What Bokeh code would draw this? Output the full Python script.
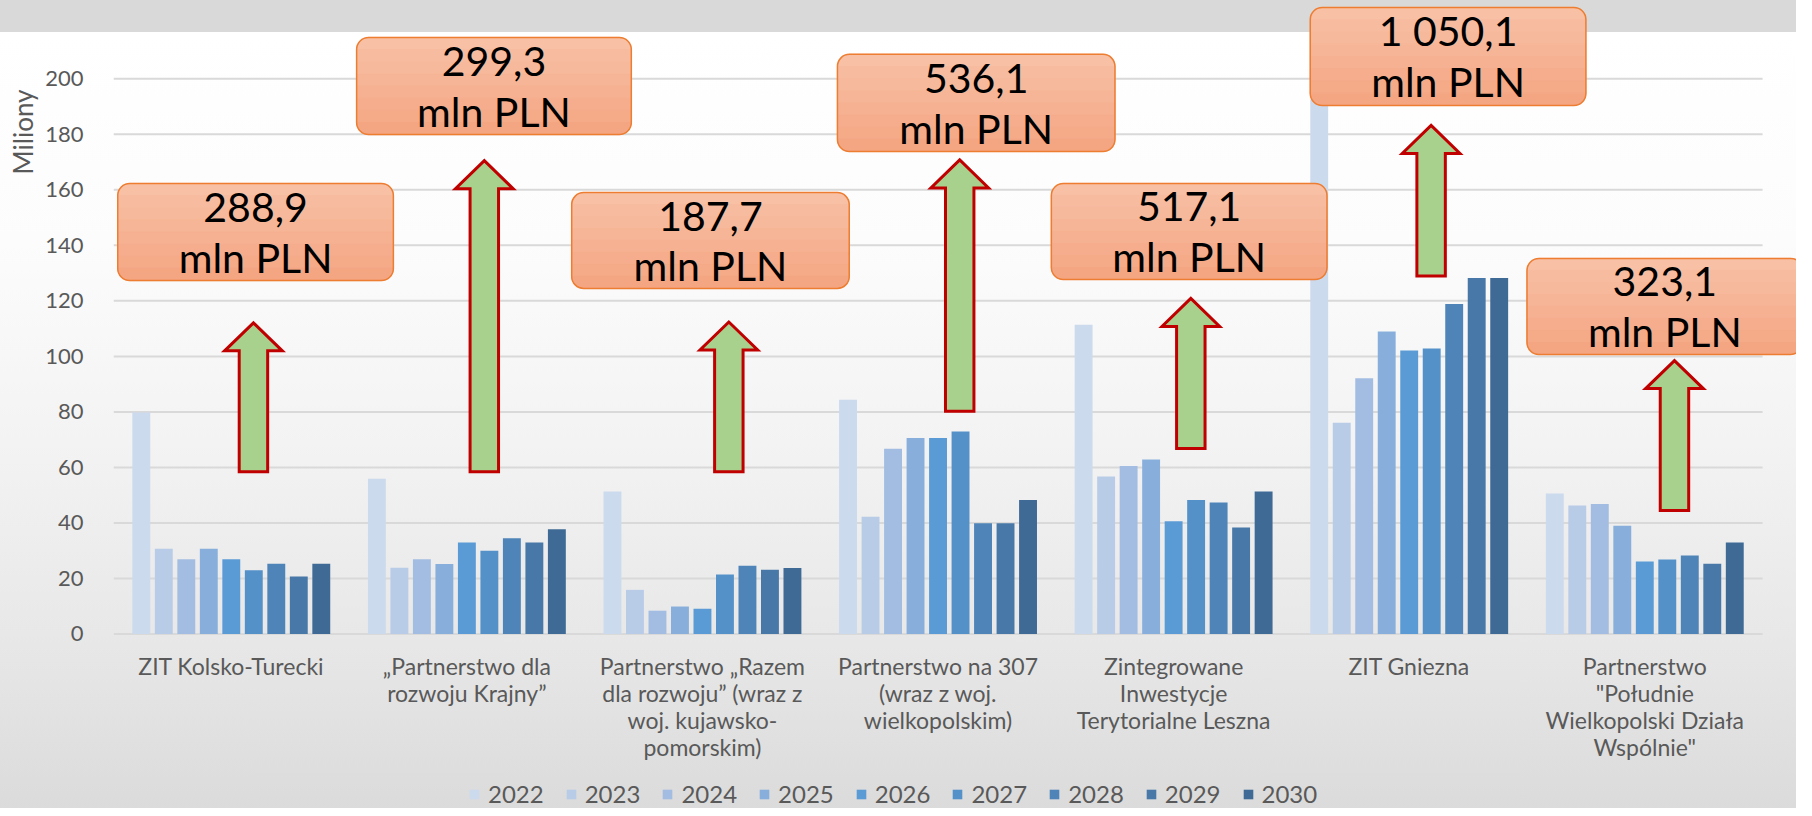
from bokeh.plotting import figure
from bokeh.models import Range1d, FixedTicker, Legend, LegendItem, Title, ColumnDataSource
from bokeh.core.properties import value
from bokeh.embed import file_html
from bokeh.resources import INLINE

# ---------------- data ----------------
categories = [
    "ZIT Kolsko-Turecki",
    "\u201ePartnerstwo dla\nrozwoju Krajny\u201d",
    "Partnerstwo \u201eRazem\ndla rozwoju\u201d (wraz z\nwoj. kujawsko-\npomorskim)",
    "Partnerstwo na 307\n(wraz z woj.\nwielkopolskim)",
    "Zintegrowane\nInwestycje\nTerytorialne Leszna",
    "ZIT Gniezna",
    "Partnerstwo\n\"Po\u0142udnie\nWielkopolski Dzia\u0142a\nWsp\u00f3lnie\"",
]
years = ["2022", "2023", "2024", "2025", "2026", "2027", "2028", "2029", "2030"]

v2022 = [79.8, 55.9, 51.3, 84.4, 111.4, 192.6, 50.6]
v2023 = [30.7, 23.9, 15.9, 42.2, 56.7, 76.1, 46.3]
v2024 = [26.9, 26.9, 8.4, 66.7, 60.5, 92.1, 46.8]
v2025 = [30.7, 25.2, 9.9, 70.6, 62.9, 109.0, 39.0]
v2026 = [26.9, 33.0, 9.1, 70.6, 40.6, 102.1, 26.1]
v2027 = [23.0, 30.0, 21.4, 72.9, 48.3, 102.8, 26.8]
v2028 = [25.3, 34.5, 24.6, 39.9, 47.4, 118.9, 28.3]
v2029 = [20.7, 33.0, 23.1, 39.9, 38.4, 128.2, 25.3]
v2030 = [25.3, 37.7, 23.8, 48.3, 51.3, 128.2, 33.0]
series = [v2022, v2023, v2024, v2025, v2026, v2027, v2028, v2029, v2030]

totals = ["288,9", "299,3", "187,7", "536,1", "517,1", "1 050,1", "323,1"]
unit_label = "mln PLN"
y_ticks = [0, 20, 40, 60, 80, 100, 120, 140, 160, 180, 200]
y_title = "Miliony"

# ---------------- styling / annotation geometry ----------------
bar_colors = ["#CCDAEE", "#B8CCE8", "#A3BDE2", "#88AFDC", "#5B9BD5",
              "#5591C9", "#4E84B8", "#4778A8", "#3F6A95"]
bar_pitch = 0.0955
bar_width = 0.076

box_left = [0.018, 1.032, 1.945, 3.073, 3.981, 5.080, 6.000]
box_right = [1.188, 2.198, 3.123, 4.251, 5.151, 6.250, 7.170]
box_top = [162.3, 214.9, 159.0, 208.8, 162.3, 225.7, 135.3]
box_bottom = [127.3, 179.9, 124.5, 173.8, 127.7, 190.4, 100.7]

arrow_x = [0.594, 1.574, 2.612, 3.592, 4.573, 5.593, 6.626]
arrow_bottom = [58.4, 58.4, 58.4, 80.2, 66.8, 129.0, 44.5]
arrow_tip = [112.1, 170.5, 112.4, 170.8, 120.9, 183.2, 98.5]
shaft_hw = 0.0604
head_hw = 0.1225
head_h = 10.1

label_y = -6.5          # top of category labels (data units, below the zero line)

FONT = "Lato"
GREY_TXT = "#595959"

W, H = 1796, 808
p = figure(width=W, height=H, output_backend="svg", toolbar_location=None,
           x_range=Range1d(0, 7.144), y_range=Range1d(-62.86, 228.2),
           x_axis_location=None, title_location=None,
           min_border=0, min_border_left=105, min_border_bottom=0,
           min_border_top=0, min_border_right=0)
p.background_fill_color = None
p.border_fill_color = None
p.outline_line_color = None
p.styles = {"background": "linear-gradient(to bottom, #D9D9D9 0px, #D9D9D9 32px, "
            "#FFFFFF 32px, #FCFCFC 242px, #F3F3F3 442px, #E8E8E8 633px, #DBDBDB 808px)"}
p.xgrid.visible = False
p.ygrid.visible = False

# gridlines
p.segment(x0=[0] * len(y_ticks), x1=[7] * len(y_ticks), y0=y_ticks, y1=y_ticks,
          line_color="#D9D9D9", line_width=2)

# bars
renderers = []
for i, (yr, vals) in enumerate(zip(years, series)):
    xs = [c + 0.5 + (i - 4) * bar_pitch for c in range(len(categories))]
    r = p.vbar(x=xs, top=vals, bottom=0, width=bar_width,
               fill_color=bar_colors[i], line_color=None)
    renderers.append(r)

# category labels (x axis)
p.text(x=[c + 0.5 for c in range(len(categories))], y=[label_y] * len(categories),
       text=categories, text_font=value(FONT), text_font_size=value("23px"),
       text_color=GREY_TXT, text_align="center", text_baseline="top",
       text_line_height=0.96)

# arrows
xs_list, ys_list = [], []
for cx, b, t in zip(arrow_x, arrow_bottom, arrow_tip):
    hb = t - head_h
    xs_list.append([cx - shaft_hw, cx - shaft_hw, cx - head_hw, cx, cx + head_hw, cx + shaft_hw, cx + shaft_hw])
    ys_list.append([b, hb, hb, t, hb, hb, b])
p.patches(xs_list, ys_list, fill_color="#A9D18E", line_color="#C00000",
          line_width=3, line_join="miter")

# boxes with vertical gradient
top_rgb = (248, 192, 165)
bot_rgb = (244, 166, 131)
n = 8
groups = {"top": ([], [], [], [], []), "mid": ([], [], [], [], []), "bot": ([], [], [], [], [])}
for l, r_, t, b in zip(box_left, box_right, box_top, box_bottom):
    h = (t - b) / n
    for k in range(n):
        f = k / (n - 1)
        col = "#%02X%02X%02X" % tuple(int(round(a + (c - a) * f)) for a, c in zip(top_rgb, bot_rgb))
        key = "top" if k == 0 else ("bot" if k == n - 1 else "mid")
        g = groups[key]
        g[0].append(l); g[1].append(r_); g[2].append(t - k * h); g[3].append(t - (k + 1) * h); g[4].append(col)
radii = {"top": (12, 12, 0, 0), "mid": 0, "bot": (0, 0, 12, 12)}
for key, g in groups.items():
    src = ColumnDataSource(dict(left=g[0], right=g[1], top=g[2], bottom=g[3], c=g[4]))
    p.quad(left="left", right="right", top="top", bottom="bottom", source=src,
           fill_color="c", line_color="c", line_width=1, border_radius=radii[key])
p.quad(left=box_left, right=box_right, top=box_top, bottom=box_bottom,
       fill_color=None, line_color="#ED7D31", line_width=1.5, border_radius=12)

p.text(x=[(l + r_) / 2 for l, r_ in zip(box_left, box_right)],
       y=[(t + b) / 2 for t, b in zip(box_top, box_bottom)],
       text=[f"{t}\n{unit_label}" for t in totals],
       text_font=value(FONT), text_font_size=value("41px"), text_color="black",
       text_align="center", text_baseline="middle", text_line_height=1.04)

# y axis
yax = p.yaxis[0]
yax.ticker = FixedTicker(ticks=y_ticks)
yax.axis_line_color = None
yax.major_tick_line_color = None
yax.minor_tick_line_color = None
yax.major_label_text_font = FONT
yax.major_label_text_font_size = "22px"
yax.major_label_text_color = GREY_TXT
yax.major_label_standoff = 24

p.add_layout(Title(text=y_title, align="right", offset=89, text_font=FONT,
                   text_font_size="26px", text_font_style="normal",
                   text_color=GREY_TXT, standoff=8), "left")

legend = Legend(items=[LegendItem(label=yr, renderers=[r]) for yr, r in zip(years, renderers)],
                orientation="horizontal", location=(355, 0),
                glyph_width=12, glyph_height=12, label_standoff=8, spacing=21,
                label_text_font=FONT, label_text_font_size="24px",
                label_text_color=GREY_TXT, padding=0, margin=0,
                background_fill_color=None, border_line_color=None)
p.add_layout(legend, "center")

open("out.html", "w").write(file_html(p, INLINE))
